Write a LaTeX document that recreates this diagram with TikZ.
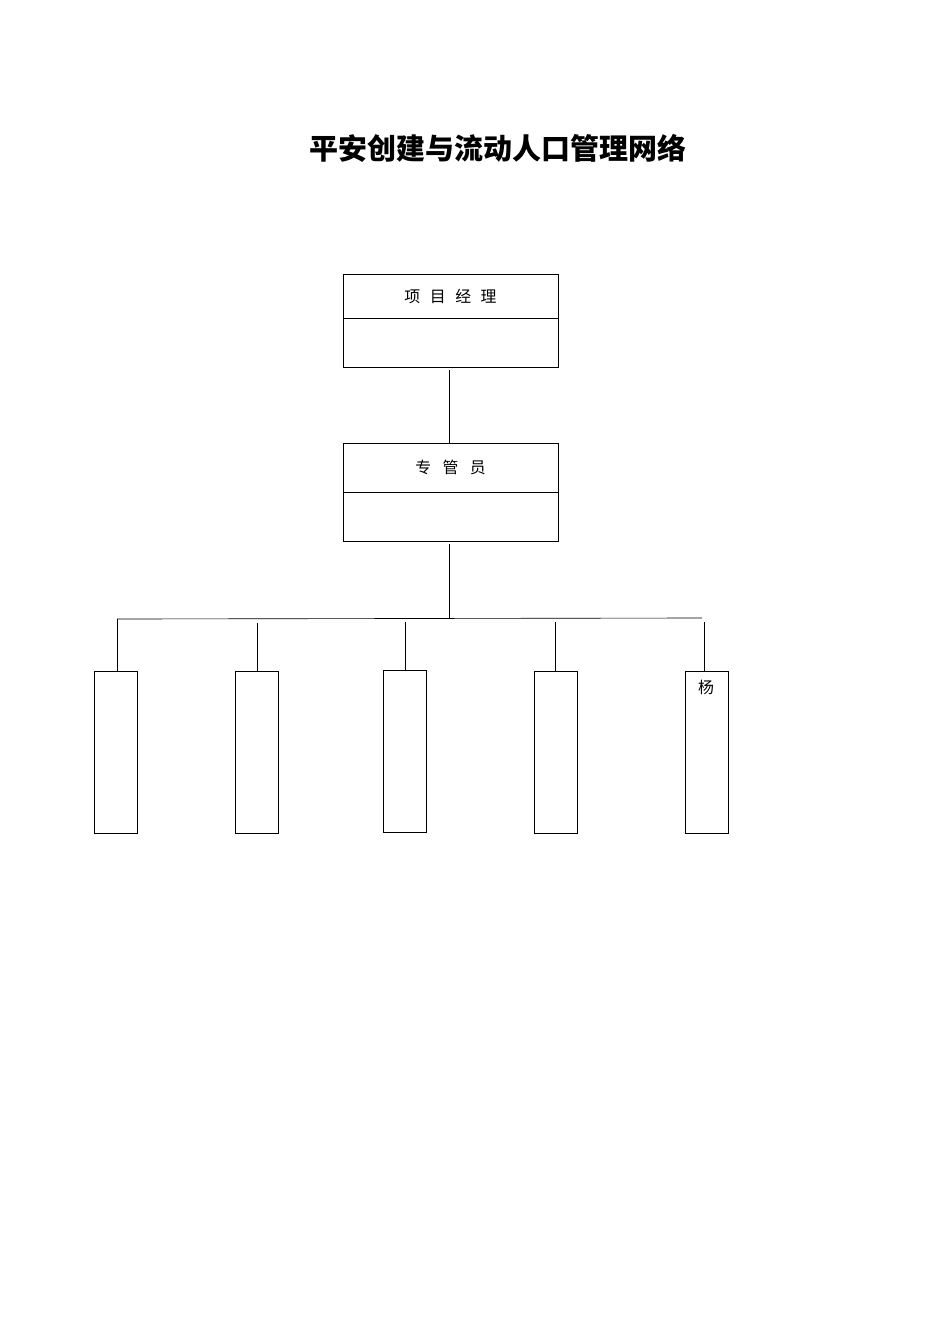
\documentclass[tikz,border=0pt]{standalone}
\usepackage{fontspec}
\newfontfamily\cjk{Noto Sans CJK SC}
\usetikzlibrary{
  positioning,  % Function "of" (e.g. [below=of x])
}
\newcommand{\gap}{\hspace{2.1mm}}
\tikzset{
  font=\cjk,
  line width=0.85pt,
  inv/.style={
    draw=none
  },
  my head/.style={
    draw,
    minimum width=47.5mm,
    inner sep=0mm,
    outer sep=0mm,
    font=\cjk\fontsize{10}{12}\selectfont,
    rectangle
  },
  my body/.style={
    my head,
    minimum height=11mm
  },
  my leaf/.style={
    draw,
    minimum width=9.5mm,
    minimum height=35.8mm,
    inner sep=0mm,
    outer sep=0mm,
    rectangle
  },
  my title/.style={
    inv,
    font=\cjk\bfseries\fontsize{18.2}{21}\selectfont
  }
}
\begin{document}
\begin{tikzpicture}[x=0.221mm,y=-0.221mm]
\useasboundingbox (0,0) rectangle (950,1344);
\node[my title] (title) at (498,148) {平安创建与流动人口管理网络};
% upper boxes
\node[my head,minimum height=9.7mm] (pm) at (450.5,296) {项\gap 目\gap 经\gap 理};
\node[my body,below=0mm of pm,minimum height=10.8mm] (pm body) {};
\node[my head,minimum height=10.8mm] (mgr) at (450.5,467.5) {专\hspace{2.5mm}管\hspace{2.5mm}员};
\node[my body,below=0mm of mgr] (mgr body) {};
% lower boxes
\node[my leaf,anchor=north] (s1) at (115.5,671) {};
\node[my leaf,anchor=north] (s2) at (256.5,671) {};
\node[my leaf,anchor=north] (s3) at (405,670) {};
\node[my leaf,anchor=north] (s4) at (556,671) {};
\node[my leaf,anchor=north] (s5) at (706.5,671) {};
\node[inv,font=\cjk\fontsize{10}{12}\selectfont] (s5 name) at (706,687) {杨};
% bus line
\coordinate (bus l) at (117,619);
\coordinate (bus m) at (449,619);
\coordinate (bus r) at (702,618);
\coordinate (t2) at (257,623);
\coordinate (t3) at (405,622);
\coordinate (t4) at (555,622);
\coordinate (t5) at (704,622);
\draw ([yshift=-0.7mm]pm body.south -| 449,0) -- (mgr.north -| 449,0);
\draw ([yshift=-0.5mm]mgr body.south -| 449,0) -- (bus m);
\draw (bus l) -- (bus r);
\draw (bus l) -- (s1.north -| bus l);
\draw (t2) -- (s2.north -| t2);
\draw (t3) -- (s3.north -| t3);
\draw (t4) -- (s4.north -| t4);
\draw (t5) -- (s5.north -| t5);
\end{tikzpicture}
\end{document}
